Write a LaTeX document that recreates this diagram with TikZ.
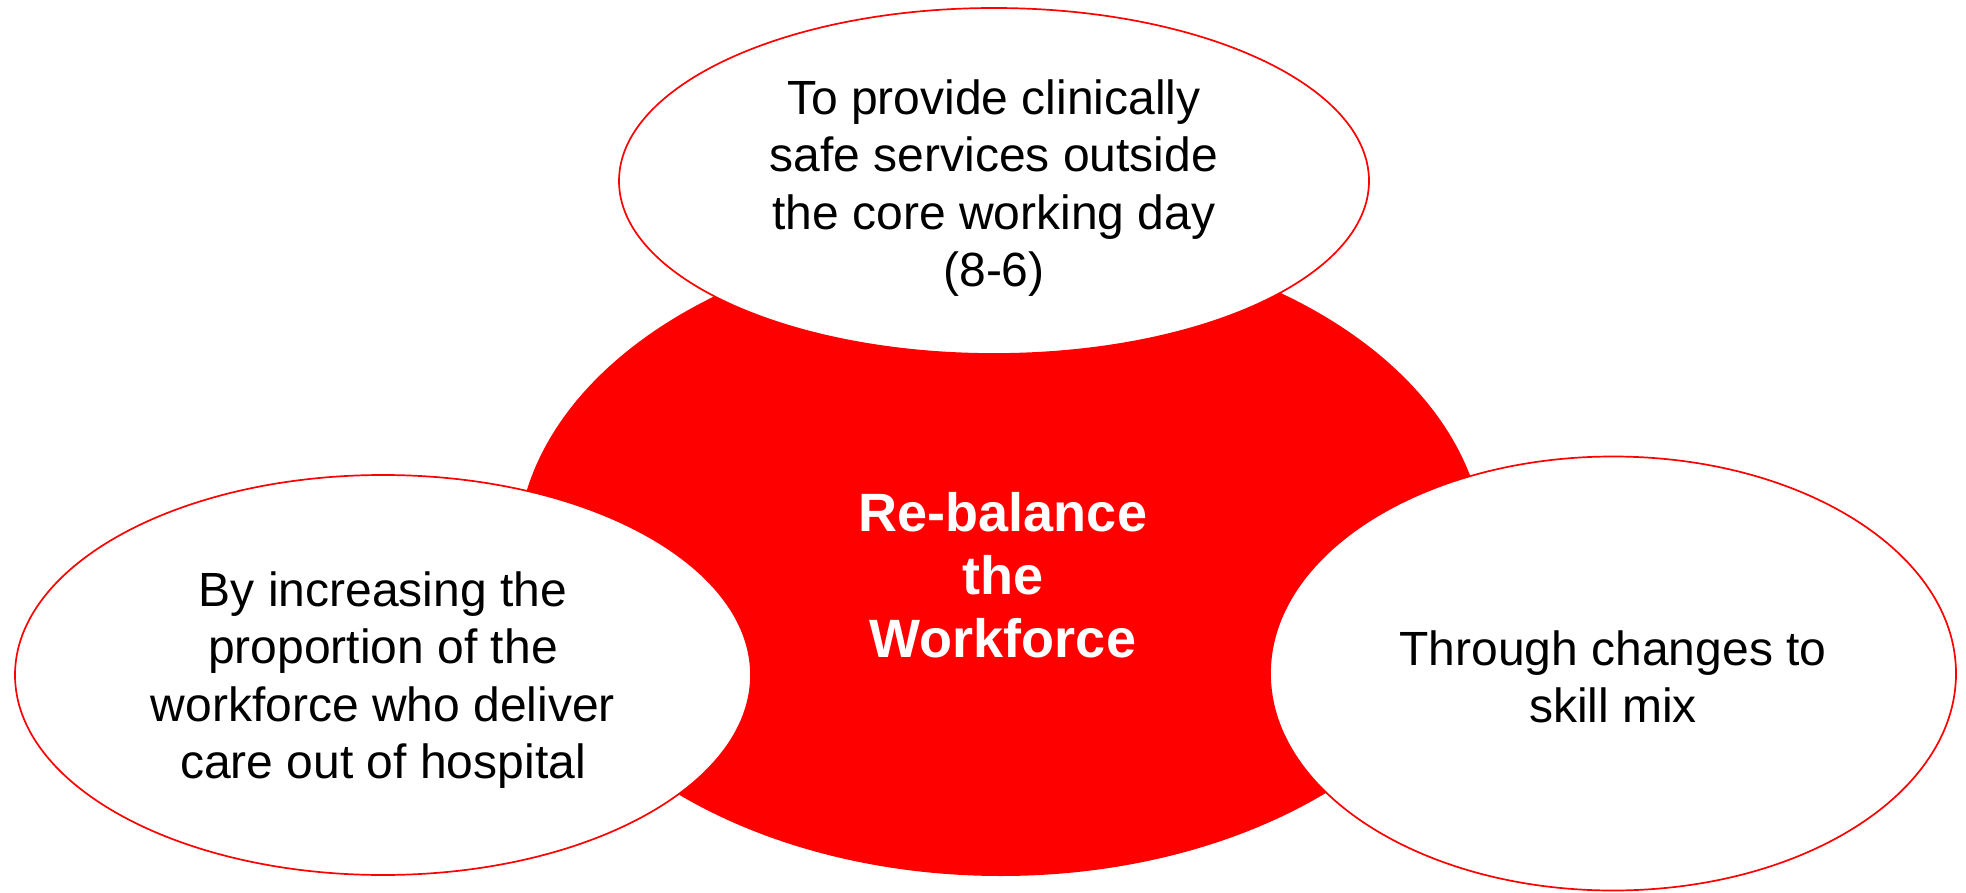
\documentclass[tikz,border=0pt]{standalone}
\usepackage{fontspec}
\setmainfont{Liberation Sans}
\usetikzlibrary{shapes.geometric}
\definecolor{pptred}{RGB}{255,0,0}
\begin{document}
\begin{tikzpicture}[x=0.5pt,y=-0.5pt,
  outerell/.style={ellipse, draw=pptred, line width=0.85pt, fill=white, inner sep=0pt,
    align=center, text=black, font=\fontsize{24pt}{28.6pt}\selectfont},
  coreell/.style={ellipse, fill=pptred, draw=none, inner sep=0pt},
  coretext/.style={align=center, text=white, font=\bfseries\fontsize{27pt}{31.5pt}\selectfont}]
\useasboundingbox (0,0) rectangle (1966,893);
\node[coreell, minimum width=484pt, minimum height=321pt] (core) at (1001,555) {};
\node[coretext] (coretxt) at (1003,575) {Re-balance\\the\\Workforce};
\node[outerell, minimum width=375pt, minimum height=173pt] (top) at (994,181) {};
\node[outerell, minimum width=368pt, minimum height=200pt] (left) at (383,675) {};
\node[outerell, minimum width=343pt, minimum height=217pt] (right) at (1613,673.5) {};
\node[align=center, font=\fontsize{24pt}{28.6pt}\selectfont] (toptxt) at ([yshift=-3.5pt]top.center)
  {To provide clinically\\safe services outside\\the core working day\\(8-6)};
\node[align=center, font=\fontsize{24pt}{28.6pt}\selectfont] (lefttxt) at ([yshift=-2.5pt]left.center)
  {By increasing the\\proportion of the\\workforce who deliver\\care out of hospital};
\node[align=center, font=\fontsize{24pt}{28.6pt}\selectfont] (righttxt) at ([yshift=-1.5pt]right.center)
  {Through changes to\\skill mix};
\end{tikzpicture}
\end{document}
